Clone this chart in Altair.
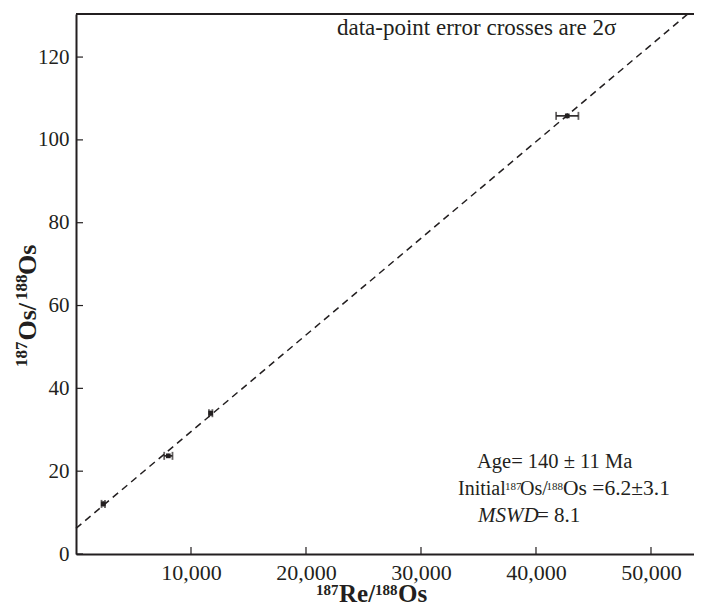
import altair as alt
import pandas as pd

# ---- data ----
re_vals = [2370, 8030, 11710, 42720]        # 187Re/188Os
os_vals = [12.1, 23.7, 34.0, 105.8]         # 187Os/188Os
re_err = [150, 360, 150, 970]               # 2 sigma, x
os_err = [0.6, 0.5, 0.6, 0.6]               # 2 sigma, y

iso_x = [0, 53200]                          # isochron end points
iso_y = [6.2, 130.4]

x_ticks = [10000, 20000, 30000, 40000, 50000]
y_ticks = [0, 20, 40, 60, 80, 100, 120]
x_domain = [0, 53740]
y_domain = [0, 130.4]

note_text = ["data-point error crosses are 2σ"]
age_text = ["Age= 140  ± 11 Ma"]
init_parts = ["Initial", "187", "Os/", "188", "Os =6.2±3.1"]
mswd_parts = ["MSWD", "= 8.1"]
xtitle_parts = ["187", "Re/", "188", "Os"]
ytitle_parts = ["187", "Os/", "188", "Os"]

# ---- styling ----
C = "#231f20"
F = "Liberation Serif"
W, H = 618, 540

pts = pd.DataFrame({
    "x": re_vals, "y": os_vals,
    "lo": [a - b for a, b in zip(re_vals, re_err)],
    "hi": [a + b for a, b in zip(re_vals, re_err)],
    "ylo": [a - b for a, b in zip(os_vals, os_err)],
    "yhi": [a + b for a, b in zip(os_vals, os_err)],
})
iso = pd.DataFrame({"x": iso_x, "y": iso_y})

xs = alt.Scale(domain=x_domain, nice=False, zero=False)
ys = alt.Scale(domain=y_domain, nice=False, zero=False)

x_axis = alt.Axis(values=x_ticks, format=",.0f", title=None, ticks=False, grid=False,
                  labelFont=F, labelFontSize=22, labelColor=C, labelPadding=8,
                  domainColor=C, domainWidth=2, labelFlush=False)
y_axis = alt.Axis(values=y_ticks, format="d", title=None, ticks=False, grid=False,
                  labelFont=F, labelFontSize=21, labelColor=C, labelPadding=7,
                  domainColor=C, domainWidth=2, labelFlush=False)


def X(f):
    return alt.X(f, scale=xs, axis=None)


def Y(f):
    return alt.Y(f, scale=ys, axis=None)


line = alt.Chart(iso).mark_line(strokeDash=[7, 5], strokeWidth=1.5, color=C).encode(
    x=alt.X("x:Q", scale=xs, axis=x_axis), y=alt.Y("y:Q", scale=ys, axis=y_axis))

xbar = alt.Chart(pts).mark_rule(strokeWidth=1.6, color=C).encode(
    x=X("lo:Q"), x2="hi:Q", y=Y("y:Q"))
ybar = alt.Chart(pts).mark_rule(strokeWidth=1.6, color=C).encode(
    x=X("x:Q"), y=Y("ylo:Q"), y2="yhi:Q")
cap_lo = alt.Chart(pts).mark_tick(orient="vertical", size=8, thickness=1.8, color=C).encode(
    x=X("lo:Q"), y=Y("y:Q"))
cap_hi = alt.Chart(pts).mark_tick(orient="vertical", size=8, thickness=1.8, color=C).encode(
    x=X("hi:Q"), y=Y("y:Q"))
centre = alt.Chart(pts).mark_square(size=22, filled=True, color=C, opacity=1).encode(
    x=X("x:Q"), y=Y("y:Q"))

xt = alt.Chart(pd.DataFrame({"v": x_ticks})).mark_rule(strokeWidth=1.2, color=C).encode(
    x=X("v:Q"), y=alt.value(H - 7), y2=alt.value(H))
yt = alt.Chart(pd.DataFrame({"v": y_ticks})).mark_rule(strokeWidth=1.2, color=C).encode(
    y=Y("v:Q"), x=alt.value(0), x2=alt.value(7))
top = alt.Chart(pd.DataFrame({"a": [0]})).mark_rule(strokeWidth=2, color=C).encode(
    x=alt.value(0), x2=alt.value(W), y=alt.value(0))


def txt(s, x, y, size, weight="normal", style="normal", angle=0):
    return alt.Chart(pd.DataFrame({"t": [s]})).mark_text(
        align="left", baseline="alphabetic", font=F, fontSize=size,
        fontWeight=weight, fontStyle=style, angle=angle, color=C
    ).encode(text="t:N", x=alt.value(x), y=alt.value(y))


texts = [
    txt(note_text[0], 261, 21, 23),
    txt(age_text[0], 401, 454, 20.5),
    txt(init_parts[0], 382, 481, 20),
    txt(init_parts[1], 429, 476, 11),
    txt(init_parts[2], 444, 481, 20),
    txt(init_parts[3], 470.5, 476, 11),
    txt(init_parts[4], 487, 481, 21.5),
    txt(mswd_parts[0], 402, 507.7, 21, style="italic"),
    txt(mswd_parts[1], 461, 507.7, 21),
    # x title
    txt(xtitle_parts[0], 240, 581, 15, weight="bold"),
    txt(xtitle_parts[1], 263, 588, 25, weight="bold"),
    txt(xtitle_parts[2], 299, 581, 15, weight="bold"),
    txt(xtitle_parts[3], 322, 588, 25, weight="bold"),
    # y title (rotated)
    txt(ytitle_parts[0], -49, 353, 17, weight="bold", angle=270),
    txt(ytitle_parts[1], -40, 326.5, 26, weight="bold", angle=270),
    txt(ytitle_parts[2], -49, 286, 17, weight="bold", angle=270),
    txt(ytitle_parts[3], -40, 261, 26, weight="bold", angle=270),
]

chart = alt.layer(line, xbar, ybar, cap_lo, cap_hi, centre, xt, yt, top, *texts).resolve_axis(
    x="independent", y="independent"
).properties(
    width=W, height=H,
    autosize=alt.AutoSizeParams(type="none"),
    padding={"left": 68, "top": 6, "right": 0, "bottom": 54},
    background="white",
).configure_view(stroke=None)

chart.save("out.html", embed_options={"renderer": "svg", "actions": False})
